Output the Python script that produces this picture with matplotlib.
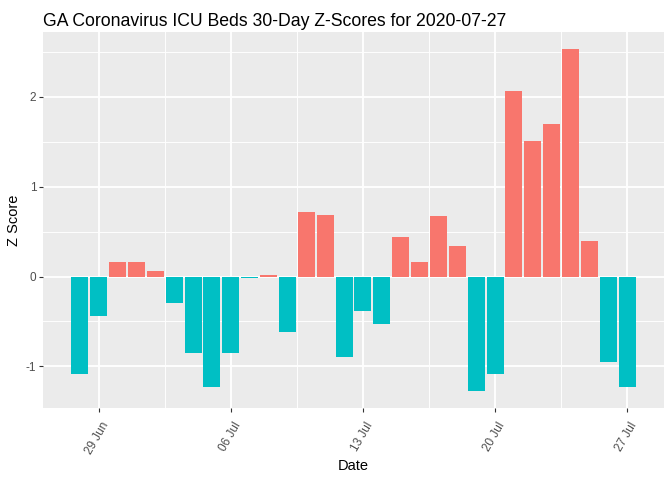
import matplotlib
matplotlib.use("Agg")
import matplotlib.pyplot as plt
import matplotlib.dates as mdates
import matplotlib.transforms as mtransforms
import numpy as np
import pandas as pd

dates = ["2020-06-28", "2020-06-29", "2020-06-30", "2020-07-01", "2020-07-02",
         "2020-07-03", "2020-07-04", "2020-07-05", "2020-07-06", "2020-07-07",
         "2020-07-08", "2020-07-09", "2020-07-10", "2020-07-11", "2020-07-12",
         "2020-07-13", "2020-07-14", "2020-07-15", "2020-07-16", "2020-07-17",
         "2020-07-18", "2020-07-19", "2020-07-20", "2020-07-21", "2020-07-22",
         "2020-07-23", "2020-07-24", "2020-07-25", "2020-07-26", "2020-07-27"]
z_scores = [-1.085, -0.44, 0.167, 0.167, 0.067,
            -0.296, -0.852, -1.23, -0.852, -0.02,
            0.022, -0.619, 0.72, 0.68, -0.893,
            -0.385, -0.53, 0.445, 0.167, 0.678,
            0.344, -1.274, -1.085, 2.067, 1.511,
            1.70, 2.533, 0.40, -0.952, -1.23]
tick_dates = ["2020-06-29", "2020-07-06", "2020-07-13", "2020-07-20", "2020-07-27"]
y_ticks = [-1, 0, 1, 2]

title = "GA Coronavirus ICU Beds 30-Day Z-Scores for 2020-07-27"

plt.rcParams["font.family"] = ["Liberation Sans", "DejaVu Sans"]
plt.rcParams["axes.unicode_minus"] = False

W, H = 672, 480
fig = plt.figure(figsize=(W / 100, H / 100), dpi=100)
left, right, top, bottom = 43, 664, 32, 408
ax = fig.add_axes([left / W, 1 - bottom / H, (right - left) / W, (bottom - top) / H])
ax.set_facecolor("#EBEBEB")
for s in ax.spines.values():
    s.set_visible(False)

x = mdates.date2num(pd.to_datetime(dates))
z = np.array(z_scores)
colors = ["#F8766D" if v > 0 else "#00BFC4" for v in z]
ax.bar(x, z, width=0.9, color=colors, zorder=3, linewidth=0)

lo, hi = x.min() - 0.45, x.max() + 0.45
pad = 0.05 * (hi - lo)
ylo, yhi = z.min(), z.max()
ypad = 0.05 * (yhi - ylo)

major = mdates.date2num(pd.to_datetime(tick_dates))
ax.set_xticks(major)
ax.xaxis.set_major_formatter(mdates.DateFormatter("%d %b"))
step = major[1] - major[0]
minor = np.concatenate([[major[0] - step / 2], (major[:-1] + major[1:]) / 2, [major[-1] + step / 2]])
ax.set_xticks(minor, minor=True)
ax.set_yticks(y_ticks)
ax.set_yticks(np.arange(-1.5, 3.0, 0.5), minor=True)
ax.set_ylim(ylo - ypad, yhi + ypad)
ax.set_xlim(lo - pad, hi + pad)

ax.grid(which="major", color="white", linewidth=1.36, zorder=1)
ax.grid(which="minor", color="white", linewidth=0.68, zorder=1)
ax.set_axisbelow(True)

ax.tick_params(which="major", length=2.64, width=0.8, color="#333333",
               labelcolor="#4D4D4D", labelsize=8.45, pad=2.1)
ax.tick_params(axis="x", which="major", pad=6.0)
ax.tick_params(which="minor", length=0)
offset = mtransforms.ScaledTranslation(2 / 100, 0, fig.dpi_scale_trans)
for lab in ax.get_xticklabels():
    lab.set_rotation(60)
    lab.set_ha("right")
    lab.set_va("top")
    lab.set_rotation_mode("anchor")
    lab.set_transform(lab.get_transform() + offset)

fig.text(left / W, 1 - 26 / H, title, fontsize=12.7, color="black", ha="left", va="baseline")
fig.text((left + right) / 2 / W, 1 - 466 / H, "Date", fontsize=10.56, ha="center", va="center")
fig.text(14 / W, 1 - (top + bottom) / 2 / H, "Z Score", fontsize=10.56, ha="center", va="center", rotation=90)

fig.savefig("out.png", dpi=100)
